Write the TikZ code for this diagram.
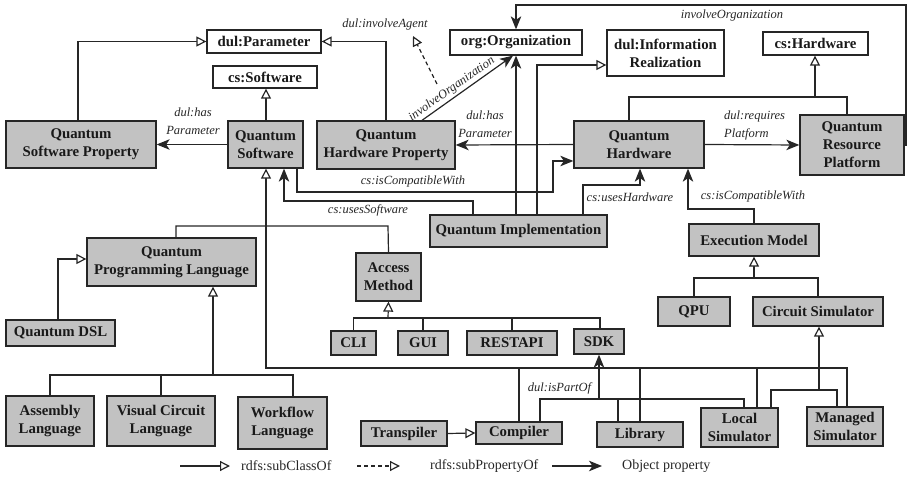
\documentclass[tikz,border=0pt]{standalone}
\usepackage{fontspec}
\setmainfont{Liberation Serif}
\usetikzlibrary{arrows.meta}
\definecolor{boxfill}{RGB}{194,194,194}
\definecolor{ink}{RGB}{38,38,38}
\begin{document}
\begin{tikzpicture}[x=1pt,y=-1pt,
  cls/.style={draw=ink, line width=1.3pt, fill=boxfill, inner sep=0pt, align=center,
    font=\bfseries\fontsize{14.8}{18}\selectfont, text=black!90},
  extcls/.style={cls, fill=white},
  link/.style={draw=ink, line width=1.2pt},
  isa/.style={link, -{Triangle[open, length=10pt, width=10pt, fill=white]}},
  relarrow/.style={link, -{Stealth[length=13pt, width=10.5pt, inset=3.5pt]}},
  subprop/.style={link, dash pattern=on 4pt off 3pt, -{Triangle[open, length=10pt, width=10pt, fill=white]}},
  lbl/.style={font=\itshape\fontsize{12.5}{18}\selectfont, text=ink, inner sep=1pt, align=center},
  leg/.style={font=\fontsize{14}{16}\selectfont, text=ink, anchor=west, inner sep=0pt}
]
\useasboundingbox (0,0) rectangle (908,478);

% ---------- imported classes ----------
\node[extcls, minimum width=114pt, minimum height=23pt] (param) at (264,41.5) {dul:Parameter};
\node[extcls, minimum width=104pt, minimum height=22pt] (sw) at (265,77) {cs:Software};
\node[extcls, minimum width=132pt, minimum height=25pt] (org) at (516,42.5) {org:Organization};
\node[extcls, minimum width=117pt, minimum height=46pt] (ir) at (665.5,53) {dul:Information\\Realization};
\node[extcls, minimum width=105pt, minimum height=23pt] (hw) at (815.5,43.5) {cs:Hardware};

% ---------- core classes ----------
\node[cls, minimum width=150pt, minimum height=47pt] (qsp) at (81,144.5) {Quantum\\Software Property};
\node[cls, minimum width=75pt, minimum height=47pt] (qs) at (265.5,144.5) {Quantum\\Software};
\node[cls, minimum width=138pt, minimum height=48pt] (qhp) at (386,145) {Quantum\\Hardware Property};
\node[cls, minimum width=130pt, minimum height=47pt] (qh) at (639,144.5) {Quantum\\Hardware};
\node[cls, minimum width=104pt, minimum height=60pt] (qrp) at (852,145) {Quantum\\Resource\\Platform};
\node[cls, minimum width=177pt, minimum height=32pt] (qi) at (518.5,231) {Quantum Implementation};

% ---------- software side ----------
\node[cls, minimum width=169pt, minimum height=48pt] (qpl) at (171.5,262) {Quantum\\Programming Language};
\node[cls, minimum width=65pt, minimum height=48pt] (am) at (388.5,277) {Access\\Method};
\node[cls, minimum width=109pt, minimum height=26pt] (qdsl) at (60.5,333) {Quantum DSL};
\node[cls, minimum width=45pt, minimum height=24pt] (cli) at (353.5,343) {CLI};
\node[cls, minimum width=50pt, minimum height=24pt] (gui) at (423,343) {GUI};
\node[cls, minimum width=90pt, minimum height=24pt] (rest) at (512,343) {RESTAPI};
\node[cls, minimum width=50pt, minimum height=25pt] (sdk) at (599,341.5) {SDK};
\node[cls, minimum width=88pt, minimum height=50pt] (asm) at (50,421) {Assembly\\Language};
\node[cls, minimum width=108pt, minimum height=50pt] (vcl) at (161,421) {Visual Circuit\\Language};
\node[cls, minimum width=89pt, minimum height=52pt] (wfl) at (282.5,423) {Workflow\\Language};
\node[cls, minimum width=86pt, minimum height=25pt] (tr) at (404,433.5) {Transpiler};
\node[cls, minimum width=86pt, minimum height=22pt] (comp) at (519,433) {Compiler};
\node[cls, minimum width=86pt, minimum height=25pt] (lib) at (640,434.5) {Library};

% ---------- execution side ----------
\node[cls, minimum width=130pt, minimum height=32pt] (em) at (754,240) {Execution Model};
\node[cls, minimum width=72pt, minimum height=29pt] (qpu) at (694,311.5) {QPU};
\node[cls, minimum width=130pt, minimum height=29pt] (cs) at (818,311.5) {Circuit Simulator};
\node[cls, minimum width=77pt, minimum height=39pt] (ls) at (739.5,427.5) {Local\\Simulator};
\node[cls, minimum width=76pt, minimum height=39pt] (ms) at (845,426.5) {Managed\\Simulator};

% ---------- subclass links ----------
\draw[isa] (qsp.north -| 78,0) |- (param.west);
\draw[isa] (qhp.north) |- (param.east);
\draw[isa] (qs.north -| 266,0) -- (sw.south -| 266,0);
\draw[link] (qh.north -| 629,0) -- (629,97) -- (847,97) -- (qrp.north -| 847,0);
\draw[isa] (815,97) -- (hw.south -| 815,0);
\draw[isa] (qi.north -| 537,0) |- (ir.west |- 0,65);

% subclasses of Quantum Software
\draw[isa] (ms.north -| 847,0) |- (266,368) -- (qs.south -| 266,0);
\draw[link] (519,368) -- (comp.north -| 519,0);
\draw[link] (640,368) -- (lib.north -| 640,0);
\draw[link] (757,368) -- (ls.north -| 757,0);
\draw[link] (qpl.north -| 176,0) |- (388,226) -- (am.north);

% language hierarchy
\draw[isa] (qdsl.north -| 58,0) |- (qpl.west |- 0,259);
\draw[link] (asm.north) |- (293,375) -- (wfl.north -| 293,0);
\draw[link] (vcl.north -| 161,0) -- (161,375);
\draw[isa] (213,375) -- (qpl.south -| 213,0);

% access methods
\draw[link] (cli.north) |- (600,318) -- (sdk.north -| 600,0);
\draw[link] (gui.north) -- (423,318);
\draw[link] (rest.north) -- (512,318);
\draw[isa] (388,318) -- (am.south);

% execution models
\draw[link] (qpu.north) |- (818,278) -- (cs.north);
\draw[isa] (754,278) -- (em.south);
\draw[link] (ls.north -| 771,0) |- (837,390) -- (ms.north -| 837,0);
\draw[isa] (819,390) -- (cs.south -| 819,0);

\draw[isa] (tr.east) -- (comp.west);

% ---------- object properties ----------
\draw[relarrow] (qs.west) -- (qsp.east);
\node[lbl] (lqsp) at (193,121.5) {dul:has\\Parameter};

\draw[relarrow] (qh.west) -- (qhp.east);
\node[lbl] (lqhp) at (485,124) {dul:has\\Parameter};

\draw[relarrow] (qhp.north -| 422,0) -- node[lbl, sloped, above, pos=0.38, inner sep=2pt] (lio) {involveOrganization} (org.south -| 513,0);
\coordinate (ioTop) at (437,84);
\coordinate (agentTip) at (413,36);
\draw[subprop] (ioTop) -- (agentTip);
\node[lbl] (lagent) at (385,24) {dul:involveAgent};

\draw[relarrow] (qrp.east) -- (qrp.east -| 906,0) |- (org.north |- 0,5) -- (org.north);
\node[lbl] (ltop) at (732,15.5) {involveOrganization};

\draw[relarrow] (qi.north -| 516,0) -- (org.south -| 516,0);

\draw[relarrow] (qs.south -| 297,0) -- (297,192) -- (553,192) |- (qh.west |- 0,161);
\node[lbl] (lcomp) at (413,181) {cs:isCompatibleWith};

\draw[relarrow] (qi.north -| 473,0) |- (284,201) -- (qs.south -| 284,0);
\node[lbl] (lsw) at (368,210) {cs:usesSoftware};

\draw[relarrow] (qi.north -| 583,0) |- (640,185) -- (qh.south -| 640,0);
\node[lbl] (lhw) at (630,197) {cs:usesHardware};

\draw[relarrow] (em.north) |- (688,209) -- (qh.south -| 688,0);
\node[lbl] (lem) at (753,196) {cs:isCompatibleWith};

\draw[relarrow] (qh.east) -- (qrp.west);
\node[lbl, anchor=west, align=left] (lplat) at (723,125) {dul:requires\\Platform};

\draw[link] (comp.north -| 540,0) |- (744,399) -- (ls.north -| 744,0);
\draw[link] (618,399) -- (lib.north -| 618,0);
\draw[relarrow] (599,399) -- (sdk.south);
\node[lbl] (lpart) at (559.5,388) {dul:isPartOf};

% ---------- legend ----------
\coordinate (l1a) at (180,466); \coordinate (l1b) at (230,466);
\coordinate (l2a) at (357,466); \coordinate (l2b) at (400,466);
\coordinate (l3a) at (552,466); \coordinate (l3b) at (602,466);
\draw[isa] (l1a) -- (l1b);
\node[leg] (t1) at (241,466) {rdfs:subClassOf};
\draw[subprop] (l2a) -- (l2b);
\node[leg] (t2) at (430,466) {rdfs:subPropertyOf};
\draw[relarrow] (l3a) -- (l3b);
\node[leg] (t3) at (622,466) {Object property};
\end{tikzpicture}
\end{document}
